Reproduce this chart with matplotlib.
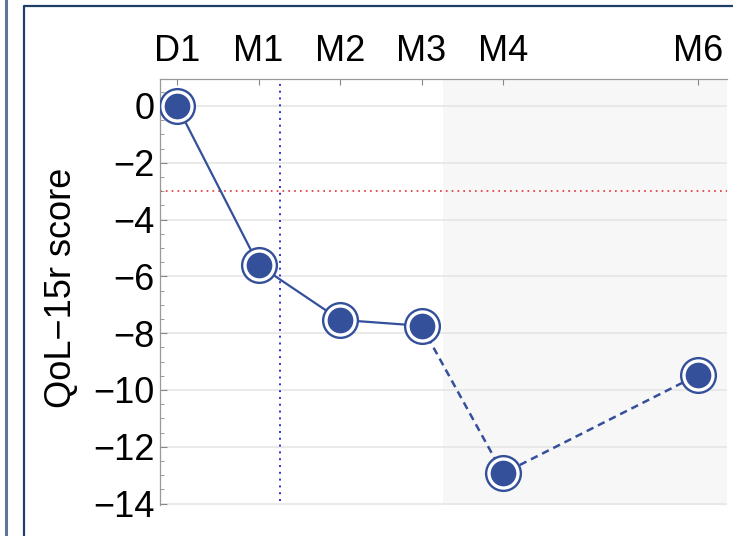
import matplotlib.pyplot as plt
from matplotlib.lines import Line2D
from matplotlib.ticker import MultipleLocator

plt.rcParams['font.family'] = ['Liberation Sans', 'DejaVu Sans']

# visit labels and their position in days
visits = ['D1', 'M1', 'M2', 'M3', 'M4', 'M6']
days = [0, 30, 60, 90, 120, 192]
scores = [0.0, -5.6, -7.53, -7.74, -12.94, -9.46]

mcid = -3          # red dotted reference line
start_day = 38     # blue dotted reference line
shade_from = 98    # start of grey shaded period

blue = '#34509a'
fig = plt.figure(figsize=(7.33, 5.36), dpi=100)
W, H = 733, 536

# frame lines around the panel
fig.add_artist(Line2D([5.5 / W, 5.5 / W], [0, 1], color='#5d7895', lw=2.2))
fig.add_artist(Line2D([24 / W, 24 / W, 1], [0, 1 - 6 / H, 1 - 6 / H], color='#1d3f66', lw=1.6))

ax = fig.add_axes([160 / W, 31 / H, 567 / W, 426 / H])
ax.set_xlim(-6.3, 202.5)
ax.set_ylim(-14.05, 0.95)

ax.axvspan(shade_from, 202.5, color='#f7f7f7', zorder=0, lw=0)
ax.yaxis.set_major_locator(MultipleLocator(2))
ax.yaxis.set_minor_locator(MultipleLocator(0.5))
ax.grid(axis='y', which='major', color='#e4e4e4', lw=1.1, zorder=0.5)
ax.set_axisbelow(True)

ax.axhline(mcid, color='#e03030', ls=(0, (1, 2.5)), lw=1.2, zorder=1)
ax.axvline(start_day, ymin=0.01, ymax=1, color='#3030d0', ls=(0, (1, 2.5)), lw=1.4, zorder=1)

# solid part up to M3, dashed after
ax.plot(days[:4], scores[:4], color=blue, lw=1.6, zorder=2)
ax.plot(days[3:], scores[3:], color=blue, lw=1.8, ls=(0, (3, 2)), zorder=2)
ax.plot(days, scores, 'o', ms=25, mfc='white', mec=blue, mew=1.7, zorder=3)
ax.plot(days, scores, 'o', ms=18.5, mfc=blue, mec=blue, mew=0, zorder=4)

ax.xaxis.tick_top()
ax.set_xticks(days)
ax.set_xticklabels(visits)
ax.tick_params(axis='x', direction='in', length=4, width=0.8, color='#888888', labelsize=26, pad=7)
ax.tick_params(axis='y', which='major', direction='in', length=5, width=0.8, color='#888888', labelsize=26, pad=4)
ax.tick_params(axis='y', which='minor', direction='in', length=3, width=0.7, color='#999999')
ax.set_yticks(range(-14, 1, 2))
ax.set_yticklabels(['\u2212%d' % -v if v < 0 else '0' for v in range(-14, 1, 2)])

for s in ['right', 'bottom']:
    ax.spines[s].set_visible(False)
for s in ['left', 'top']:
    ax.spines[s].set_color('#999999')
    ax.spines[s].set_linewidth(0.9)

fig.text(62 / W, 1 - 288 / H, 'QoL\u221215r score', rotation=90, fontsize=26, ha='center', va='center')

fig.savefig('out.png', dpi=100)
